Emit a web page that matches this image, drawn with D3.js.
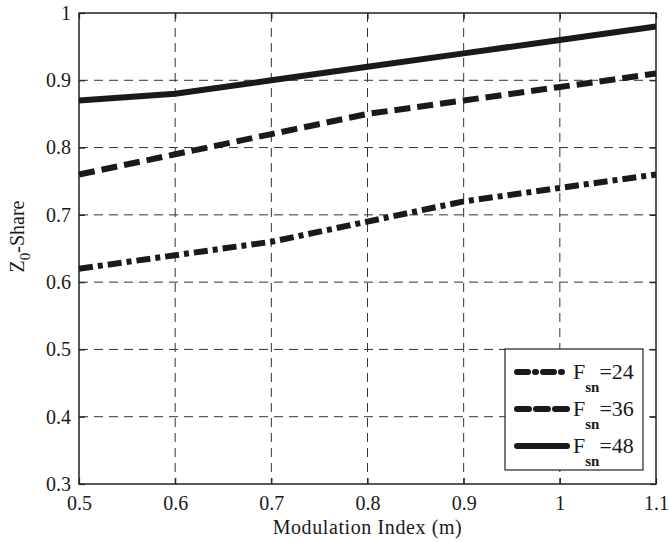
<!DOCTYPE html>
<html>
<head>
<meta charset="utf-8">
<script src="https://cdn.jsdelivr.net/npm/d3@7"></script>
<style>
  body { margin: 0; background: #fff; }
</style>
</head>
<body>
<div id="viz"></div>
<script>
// data
var mIndex = [0.5, 0.6, 0.7, 0.8, 0.9, 1.0, 1.1];
var fsn24 = [0.62, 0.64, 0.66, 0.69, 0.72, 0.74, 0.76];
var fsn36 = [0.76, 0.79, 0.82, 0.85, 0.87, 0.89, 0.91];
var fsn48 = [0.87, 0.88, 0.90, 0.92, 0.94, 0.96, 0.98];
var xTicks = [0.5, 0.6, 0.7, 0.8, 0.9, 1, 1.1];
var yTicks = [0.3, 0.4, 0.5, 0.6, 0.7, 0.8, 0.9, 1];
var seriesNames = ["24", "36", "48"];

var FONT = "'Liberation Serif', 'DejaVu Serif', 'Times New Roman', serif";
var W = 669, H = 542;
var margin = {top: 13, right: 13, bottom: 58, left: 79};
var width = W - margin.left - margin.right,
    height = H - margin.top - margin.bottom;

var svg = d3.select("#viz").append("svg")
  .attr("width", W).attr("height", H)
  .attr("font-family", FONT);
var g = svg.append("g")
  .attr("transform", "translate(" + margin.left + "," + margin.top + ")");

var x = d3.scaleLinear().domain([0.5, 1.1]).range([0, width]);
var y = d3.scaleLinear().domain([0.3, 1]).range([height, 0]);

// grid
g.append("g").selectAll("line").data(xTicks.slice(1, -1)).enter().append("line")
  .attr("x1", function(d) { return x(d); }).attr("x2", function(d) { return x(d); })
  .attr("y1", 0).attr("y2", height)
  .attr("stroke", "#333").attr("stroke-width", 1).attr("stroke-dasharray", "9,6");
g.append("g").selectAll("line").data(yTicks.slice(1, -1)).enter().append("line")
  .attr("y1", function(d) { return y(d); }).attr("y2", function(d) { return y(d); })
  .attr("x1", 0).attr("x2", width)
  .attr("stroke", "#333").attr("stroke-width", 1).attr("stroke-dasharray", "9,6");

// axes, ticks pointing in (matlab style)
var fs = "20px";
var fmt = function(d) { return String(+d.toFixed(1)); };
var xb = g.append("g").attr("transform", "translate(0," + height + ")")
  .call(d3.axisBottom(x).tickValues(xTicks).tickSizeInner(-6).tickSizeOuter(0).tickPadding(9).tickFormat(fmt));
var yl = g.append("g")
  .call(d3.axisLeft(y).tickValues(yTicks).tickSizeInner(-6).tickSizeOuter(0).tickPadding(8).tickFormat(fmt));
g.append("g").attr("transform", "translate(" + width + ",0)")
  .call(d3.axisRight(y).tickValues(yTicks).tickSizeInner(-6).tickSizeOuter(0).tickFormat(""));
g.append("g")
  .call(d3.axisTop(x).tickValues(xTicks).tickSizeInner(-6).tickSizeOuter(0).tickFormat(""));
g.selectAll(".domain").remove();
g.selectAll(".tick line").attr("stroke", "#222").attr("stroke-width", 1.2);
g.selectAll("g").attr("font-family", FONT);
g.selectAll(".tick text").style("font-size", fs).style("font-family", FONT).attr("fill", "#1a1a1a");
xb.selectAll(".tick text").attr("dy", "0.85em");

g.append("rect").attr("width", width).attr("height", height)
  .attr("fill", "none").attr("stroke", "#222").attr("stroke-width", 1.5);

// lines
var styles = [
  {data: fsn24, dash: "14,5,5,5"},
  {data: fsn36, dash: "16,7"},
  {data: fsn48, dash: null}
];
var line = d3.line()
  .x(function(d, i) { return x(mIndex[i]); })
  .y(function(d) { return y(d); });

styles.forEach(function(s) {
  g.append("path").datum(s.data)
    .attr("d", line)
    .attr("fill", "none")
    .attr("stroke", "#1a1a1a")
    .attr("stroke-width", 6)
    .attr("stroke-dasharray", s.dash);
});

// axis labels
svg.append("text")
  .attr("x", margin.left + width / 2).attr("y", 534)
  .attr("text-anchor", "middle").style("font-size", "20px").style("font-family", FONT)
  .attr("fill", "#1a1a1a").attr("letter-spacing", 0.6)
  .text("Modulation Index (m)");

var ylab = svg.append("text")
  .attr("transform", "translate(24," + (margin.top + height / 2 - 12) + ") rotate(-90)")
  .attr("text-anchor", "middle").style("font-size", "20px").style("font-family", FONT)
  .attr("fill", "#1a1a1a");
ylab.append("tspan").text("Z");
ylab.append("tspan").attr("dy", 6).style("font-size", "15px").text("0");
ylab.append("tspan").attr("dy", -6).text("-Share");

// legend
var lg = svg.append("g").attr("transform", "translate(505,349)");
lg.append("rect").attr("width", 138).attr("height", 121)
  .attr("fill", "#fff").attr("stroke", "#222").attr("stroke-width", 1.2);
styles.forEach(function(s, i) {
  var ly = 23 + i * 37;
  lg.append("line").attr("x1", 12).attr("x2", 62).attr("y1", ly).attr("y2", ly)
    .attr("stroke", "#1a1a1a").attr("stroke-width", 6)
    .attr("stroke-linecap", "round")
    .attr("stroke-dasharray", i == 0 ? "11,7,1,7" : (i == 1 ? "12,7" : null));
  var t = lg.append("text").attr("x", 68).attr("y", ly + 7)
    .style("font-size", "22px").style("font-family", FONT).attr("fill", "#1a1a1a");
  t.append("tspan").text("F");
  t.append("tspan").attr("dy", 13).style("font-size", "15px").style("font-weight", "bold").text("sn");
  t.append("tspan").attr("dy", -13).text("=" + seriesNames[i]);
});
</script>
</body>
</html>
